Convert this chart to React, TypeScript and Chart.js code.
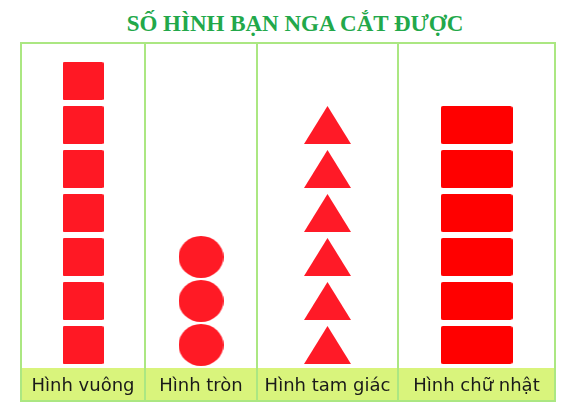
import React, { useEffect, useRef } from "react";
import { Chart, registerables } from "chart.js";

Chart.register(...registerables);

// ---- data ----
const TITLE = "SỐ HÌNH BẠN NGA CẮT ĐƯỢC";
const categories = ["Hình vuông", "Hình tròn", "Hình tam giác", "Hình chữ nhật"];
const counts = [7, 3, 6, 6];
const shapes = ["square", "circle", "triangle", "rectangle"];

// ---- layout / style ----
const COLUMN_WIDTHS = [124, 112, 141, 155];
const PLOT_H = 356;
const AXIS_H = 33;
const Y_MAX = 7.34;
const GRID_GREEN = "#abe782";
const BAND = "#d9f47c";
const TITLE_GREEN = "#22a84a";

function roundRectPath(ctx: CanvasRenderingContext2D, x: number, y: number, w: number, h: number, r: number) {
  ctx.beginPath();
  ctx.moveTo(x + r, y);
  ctx.lineTo(x + w - r, y);
  ctx.quadraticCurveTo(x + w, y, x + w, y + r);
  ctx.lineTo(x + w, y + h - r);
  ctx.quadraticCurveTo(x + w, y + h, x + w - r, y + h);
  ctx.lineTo(x + r, y + h);
  ctx.quadraticCurveTo(x, y + h, x, y + h - r);
  ctx.lineTo(x, y + r);
  ctx.quadraticCurveTo(x, y, x + r, y);
  ctx.closePath();
}

function makeIcon(kind: string): HTMLCanvasElement {
  const c = document.createElement("canvas");
  let w = 41, h = 38;
  if (kind === "circle") { w = 45; h = 42; }
  if (kind === "triangle") { w = 47; h = 38; }
  if (kind === "rectangle") { w = 72; h = 38; }
  c.width = w;
  c.height = h;
  const ctx = c.getContext("2d")!;
  if (kind === "square") {
    ctx.fillStyle = "#ff1824";
    roundRectPath(ctx, 0, 0, w, h, 1.5);
    ctx.fill();
  } else if (kind === "circle") {
    ctx.fillStyle = "#ff1a25";
    ctx.beginPath();
    ctx.ellipse(w / 2, h / 2, w / 2, h / 2, 0, 0, Math.PI * 2);
    ctx.fill();
  } else if (kind === "triangle") {
    ctx.fillStyle = "#ff1a27";
    ctx.beginPath();
    ctx.moveTo(w / 2, 0);
    ctx.lineTo(w, h);
    ctx.lineTo(0, h);
    ctx.closePath();
    ctx.fill();
  } else {
    ctx.fillStyle = "#ff0000";
    roundRectPath(ctx, 0, 0, w, h, 2.5);
    ctx.fill();
  }
  return c;
}

const bandPlugin = {
  id: "labelBand",
  beforeDraw(chart: any) {
    const { ctx } = chart;
    const x = chart.scales.x;
    ctx.save();
    ctx.fillStyle = BAND;
    ctx.fillRect(0, x.top + 1, chart.width, x.bottom - x.top - 1);
    ctx.restore();
  },
};

function Column({ index }: { index: number }) {
  const ref = useRef<HTMLCanvasElement>(null);
  const last = index === categories.length - 1;
  const width = COLUMN_WIDTHS[index] - (last ? 0 : 2);

  useEffect(() => {
    const canvas = ref.current!;
    const icon = makeIcon(shapes[index]);
    const points = Array.from({ length: counts[index] }, (_, k) => ({
      x: categories[index],
      y: k + 0.5,
    }));
    const chart = new Chart(canvas, {
      type: "scatter",
      data: {
        labels: [categories[index]],
        datasets: [
          {
            data: points as any,
            pointStyle: icon as any,
            pointRadius: 20,
            pointHoverRadius: 20,
            showLine: false,
            clip: false as any,
          },
        ],
      },
      options: {
        animation: false,
        responsive: false,
        events: [],
        layout: { padding: 0, autoPadding: false } as any,
        plugins: {
          legend: { display: false },
          tooltip: { enabled: false },
          title: { display: false },
        },
        scales: {
          x: {
            type: "category",
            labels: [categories[index]],
            offset: true,
            grid: { display: false, drawTicks: false },
            border: { display: false },
            ticks: {
              color: "#1a1a1a",
              font: { family: "'DejaVu Sans', sans-serif", size: 18 },
              padding: 9,
              maxRotation: 0,
              autoSkip: false,
            },
            afterFit: (s: any) => {
              s.height = AXIS_H;
            },
          } as any,
          y: { display: false, min: 0, max: Y_MAX },
        },
      },
      plugins: [bandPlugin],
    });
    return () => chart.destroy();
  }, [index]);

  return (
    <div
      style={{
        width: COLUMN_WIDTHS[index],
        height: PLOT_H,
        boxSizing: "border-box",
        borderRight: last ? "none" : `2px solid ${GRID_GREEN}`,
        flex: "none",
      }}
    >
      <canvas ref={ref} width={width} height={PLOT_H} style={{ display: "block", width, height: PLOT_H }} />
    </div>
  );
}

export default function App() {
  return (
    <div
      style={{
        position: "fixed",
        left: 0,
        top: 0,
        width: 566,
        height: 412,
        background: "#ffffff",
        overflow: "hidden",
      }}
    >
      <div
        style={{
          position: "absolute",
          left: 295,
          top: 12,
          transform: "translateX(-50%)",
          whiteSpace: "nowrap",
          fontFamily: "'Liberation Serif', 'Times New Roman', serif",
          fontWeight: "bold",
          fontSize: 23,
          lineHeight: "23px",
          color: TITLE_GREEN,
        }}
      >
        {TITLE}
      </div>
      <div
        style={{
          position: "absolute",
          left: 20,
          top: 42,
          width: 536,
          height: 360,
          boxSizing: "border-box",
          border: `2px solid ${GRID_GREEN}`,
          display: "flex",
        }}
      >
        {categories.map((_, i) => (
          <Column key={i} index={i} />
        ))}
      </div>
    </div>
  );
}
